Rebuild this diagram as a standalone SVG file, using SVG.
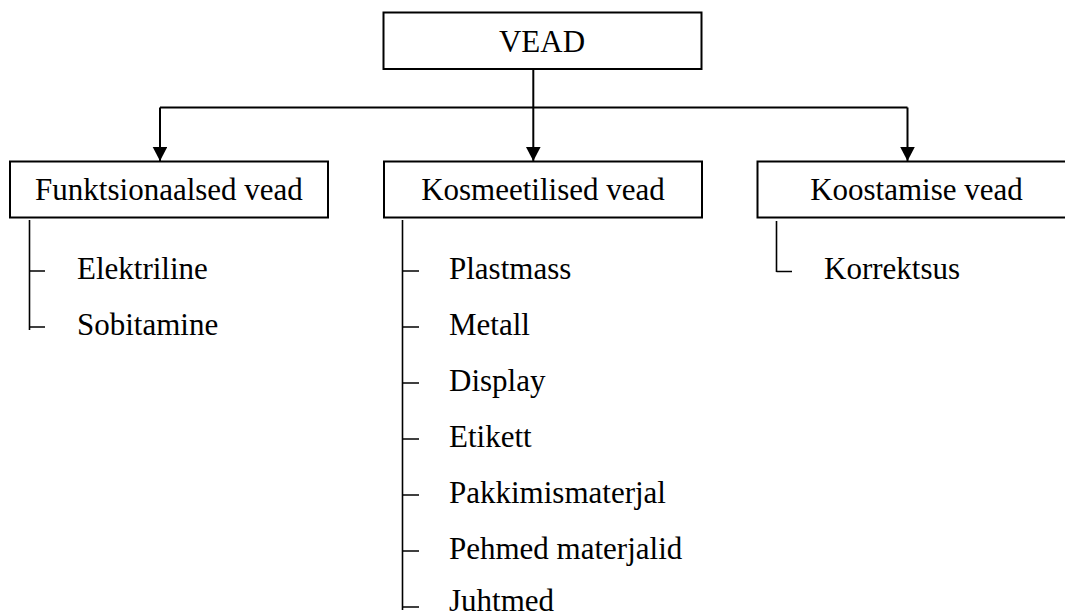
<svg xmlns="http://www.w3.org/2000/svg" width="1065" height="616" viewBox="0 0 1065 616">
<style>
.box{fill:#fff;stroke:#000;stroke-width:2}
.t{font-family:'Liberation Serif','Times New Roman','DejaVu Serif',serif;font-size:31px;fill:#000}
.c{text-anchor:middle}
.ln{fill:none;stroke:#000;stroke-width:2}
.tr{fill:none;stroke:#000;stroke-width:1.6}
</style>
<defs>
<marker id="arr" markerWidth="15" markerHeight="15" refX="14" refY="7.3" orient="auto" markerUnits="userSpaceOnUse">
<path d="M0,0 L14,7.3 L0,14.6 Z" fill="#000"/>
</marker>
</defs>
<rect width="1065" height="616" fill="#fff"/>
<g id="connectors">
<path class="ln" d="M533.3,69 V107.5"/>
<path class="ln" d="M160,107.5 H907.5"/>
<path class="ln" d="M160,107.5 V161" marker-end="url(#arr)"/>
<path class="ln" d="M533.3,107.5 V161" marker-end="url(#arr)"/>
<path class="ln" d="M907.5,107.5 V161" marker-end="url(#arr)"/>
<path class="tr" d="M29.5,220 V330 M29.5,271 H45 M29.5,327 H45"/>
<path class="tr" d="M402.5,220 V610 M402.5,271 H419 M402.5,327 H419 M402.5,383 H419 M402.5,439 H419 M402.5,495 H419 M402.5,551 H419 M402.5,607 H419"/>
<path class="tr" d="M776.5,221 V272 M776.5,271.5 H792"/>
</g>
<g id="vead">
<rect class="box" x="383.5" y="12.5" width="318" height="56.5"/>
<text class="t c" x="542" y="52">VEAD</text>
</g>
<g id="funktsionaalsed">
<rect class="box" x="10" y="161.5" width="318" height="56"/>
<text class="t c" x="169" y="200">Funktsionaalsed vead</text>
</g>
<g id="kosmeetilised">
<rect class="box" x="384" y="161.5" width="318" height="56"/>
<text class="t c" x="543" y="200">Kosmeetilised vead</text>
</g>
<g id="koostamise">
<rect class="box" x="757.5" y="161.5" width="318" height="56"/>
<text class="t c" x="916.5" y="200">Koostamise vead</text>
</g>
<g id="funk-items">
<text class="t" x="77" y="279">Elektriline</text>
<text class="t" x="77" y="335">Sobitamine</text>
</g>
<g id="kosm-items">
<text class="t" x="449" y="279">Plastmass</text>
<text class="t" x="449" y="335">Metall</text>
<text class="t" x="449" y="391">Display</text>
<text class="t" x="449" y="447">Etikett</text>
<text class="t" x="449" y="503">Pakkimismaterjal</text>
<text class="t" x="449" y="559">Pehmed materjalid</text>
<text class="t" x="449" y="611">Juhtmed</text>
</g>
<g id="koost-items">
<text class="t" x="824" y="279">Korrektsus</text>
</g>
</svg>
